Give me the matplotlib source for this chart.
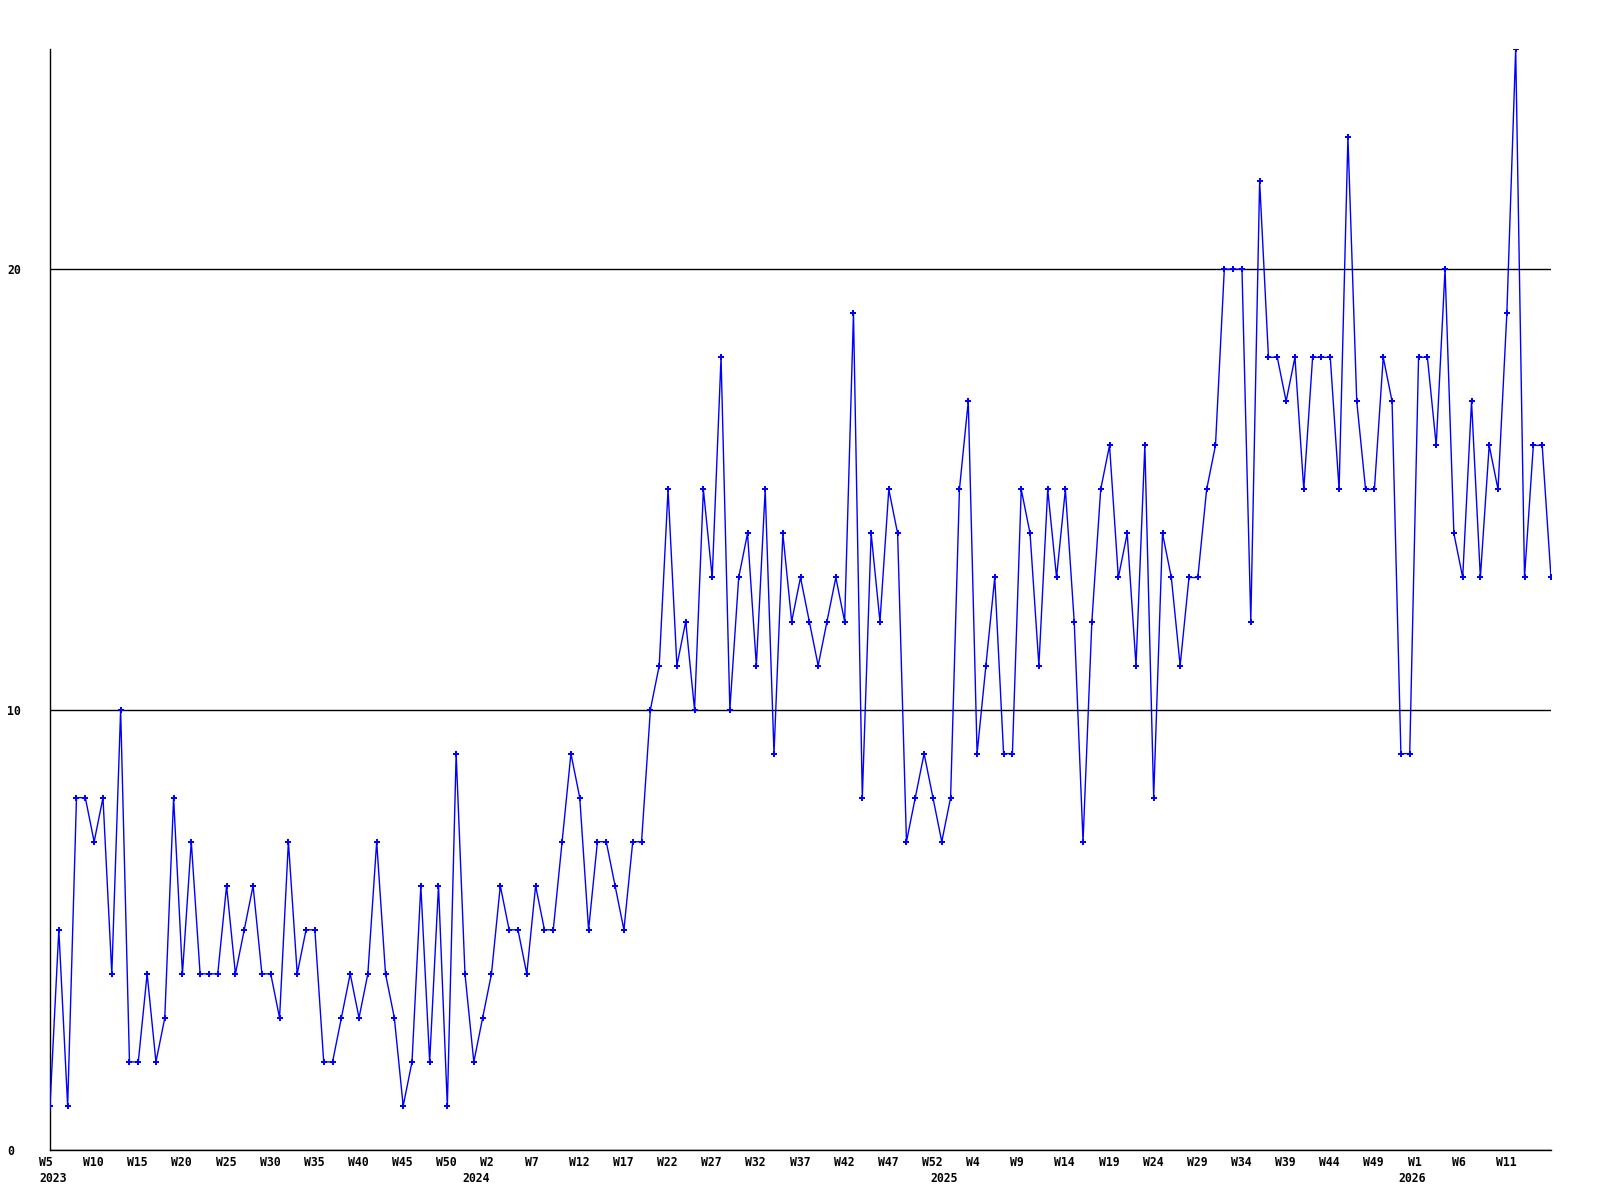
import numpy as np
import matplotlib
matplotlib.use("Agg")
import matplotlib.pyplot as plt
from matplotlib.transforms import ScaledTranslation

# weekly counts, 2023 W5 .. 2026 W16 (one bin per week, incl. a W0 bin at each new year)
vals_2023 = [1, 5, 1, 8, 8, 7, 8, 4, 10, 2, 2, 4, 2, 3, 8, 4, 7, 4, 4, 4, 6, 4, 5, 6,
             4, 4, 3, 7, 4, 5, 5, 2, 2, 3, 4, 3, 4, 7, 4, 3, 1, 2, 6, 2, 6, 1, 9, 4]
vals_2024 = [2, 3, 4, 6, 5, 5, 4, 6, 5, 5, 7, 9, 8, 5, 7, 7, 6, 5, 7, 7,
             10, 11, 15, 11, 12, 10, 15, 13, 18, 10, 13, 14, 11, 15, 9, 14, 12, 13, 12, 11,
             12, 13, 12, 19, 8, 14, 12, 15, 14, 7, 8, 9, 8]
vals_2025 = [7, 8, 15, 17, 9, 11, 13, 9, 9, 15, 14, 11, 15, 13, 15, 12, 7, 12, 15, 16,
             13, 14, 11, 16, 8, 14, 13, 11, 13, 13, 15, 16, 20, 20, 20, 12, 22, 18, 18, 17,
             18, 15, 18, 18, 18, 15, 23, 17, 15, 15, 18, 17, 9]
vals_2026 = [9, 18, 18, 16, 20, 14, 13, 17, 13, 16, 15, 19, 25, 13, 16, 16, 13]

# (year, first week, last week) of each block above
years = [2023, 2024, 2025, 2026]
first_week = [5, 0, 0, 0]
last_week = [52, 52, 52, 16]

values = vals_2023 + vals_2024 + vals_2025 + vals_2026

weeks = []
year_pos = []
for yr, w0, w1 in zip(years, first_week, last_week):
    year_pos.append(len(weeks))
    for w in range(w0, w1 + 1):
        weeks.append(w)

x = np.arange(len(values))

fig = plt.figure(figsize=(16, 12), dpi=100)
ax = fig.add_axes([50 / 1600, 50 / 1200, 1501 / 1600, 1101 / 1200])

ax.plot(x, values, color="#0000ff", lw=1.0, marker="P", ms=4.2, mew=0, zorder=3)

ax.set_xlim(0, len(values) - 1)
ax.set_ylim(0, 25)

ax.set_yticks([0, 10, 20])
ax.set_yticklabels(["0", "10", "20"])
ax.yaxis.grid(True, color="black", lw=1.0)
ax.set_axisbelow(True)

major = x[:-1:5]
ax.set_xticks(major)
ax.set_xticklabels(["W%d" % weeks[i] for i in major])
ax.set_xticks(year_pos, minor=True)
ax.set_xticklabels([str(y) for y in years], minor=True)
ax.xaxis.remove_overlapping_locs = False

fnt = dict(family="DejaVu Sans Mono", weight="bold", size=8.3)
ax.tick_params(axis="both", which="both", length=0)
ax.tick_params(axis="x", which="major", pad=4.5)
ax.tick_params(axis="x", which="minor", pad=15.5)
ax.tick_params(axis="y", pad=31)

shift = ScaledTranslation(-11 / 100, 0, fig.dpi_scale_trans)
for lab in ax.get_xticklabels() + ax.get_xticklabels(minor=True):
    lab.set(**fnt)
    lab.set_horizontalalignment("left")
    lab.set_transform(lab.get_transform() + shift)
for lab in ax.get_yticklabels():
    lab.set(**fnt)
    lab.set_horizontalalignment("left")

for s in ["top", "right"]:
    ax.spines[s].set_visible(False)
for s in ["left", "bottom"]:
    ax.spines[s].set_color("black")
    ax.spines[s].set_linewidth(1.0)

fig.savefig("out.png", dpi=100, facecolor="white")
